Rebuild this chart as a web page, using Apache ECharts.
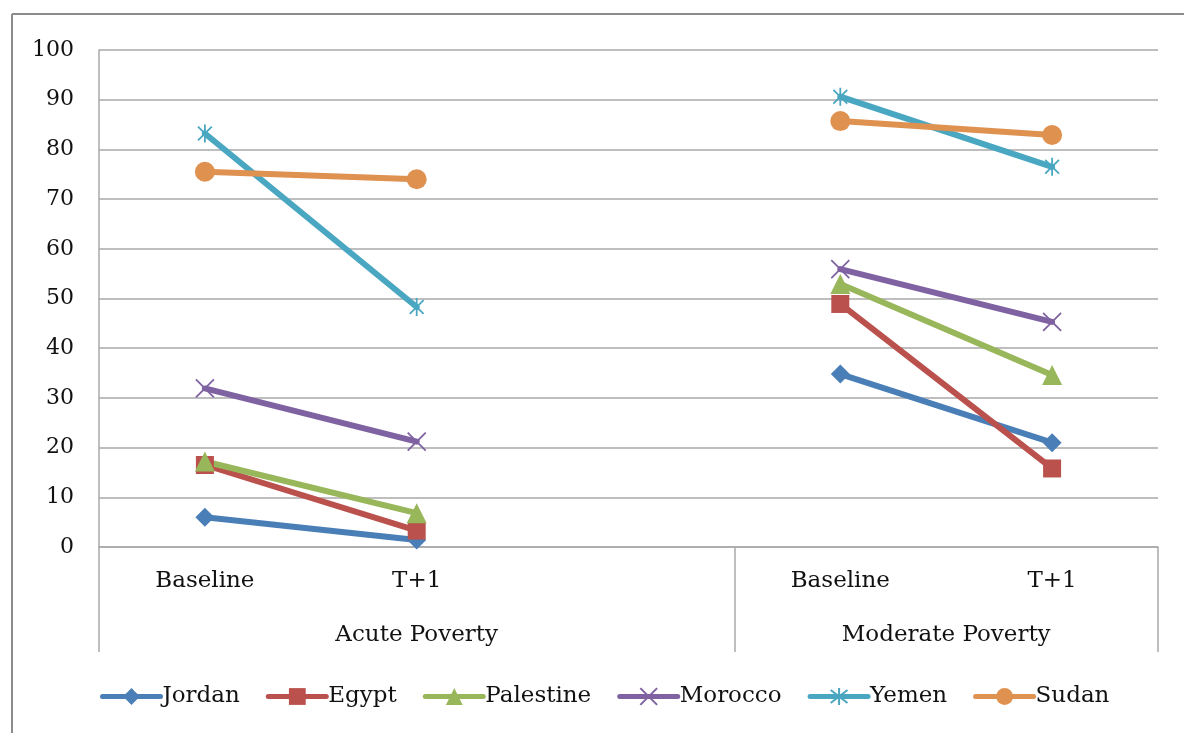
<!DOCTYPE html>
<html>
<head>
<meta charset="utf-8">
<title>Acute and Moderate Poverty</title>
<script src="https://cdn.jsdelivr.net/npm/echarts@6/dist/echarts.min.js"></script>
<style>
  html, body { margin: 0; padding: 0; background: #fff; }
  #chart { width: 1184px; height: 733px; }
</style>
</head>
<body>
<div id="chart"></div>
<script>
// Categories: two periods per poverty group, with an empty slot separating the groups
const categories = ['Baseline', 'T+1', '', 'Baseline', 'T+1'];
const groups = ['Acute Poverty', 'Moderate Poverty'];
const groupSpans = [3, 2];

// Poverty rates (%) per country, null marks the gap between groups
const jordan    = [6.0, 1.4, null, 34.8, 21.0];
const egypt     = [16.5, 3.3, null, 48.9, 15.8];
const palestine = [17.2, 6.8, null, 52.9, 34.6];
const morocco   = [31.9, 21.2, null, 55.9, 45.3];
const yemen     = [83.2, 48.3, null, 90.6, 76.5];
const sudan     = [75.5, 74.0, null, 85.7, 82.9];

const yTicks = [0, 10, 20, 30, 40, 50, 60, 70, 80, 90, 100];

const FONT = 'DejaVu Serif';
const TEXT_COLOR = '#111111';
const GRID_COLOR = '#a9a9a9';

// Group boundaries and centres along the category band (0..categories.length)
const groupEdges = [0];
groupSpans.forEach(s => groupEdges.push(groupEdges[groupEdges.length - 1] + s));
const groupCentres = groups.map((g, i) => {
  if (i === 0) return 1.5;
  return (groupEdges[i] + groupEdges[i + 1]) / 2;
});

const crossPath = 'path://M0,0L10,10M0,10L10,0';
const starPath = 'path://M0,0L10,10M0,10L10,0M5,-1.5L5,11.5';

function lineSeries(name, data, color, symbol, size, stroke) {
  return {
    name: name,
    type: 'line',
    data: data,
    connectNulls: false,
    symbol: symbol,
    symbolSize: size,
    symbolKeepAspect: true,
    showSymbol: true,
    lineStyle: { width: 6, color: color, cap: 'round' },
    itemStyle: stroke
      ? { color: 'rgba(0,0,0,0)', borderColor: color, borderWidth: 1.8 }
      : { color: color, borderWidth: 0 },
    emphasis: { disabled: true },
    z: 2
  };
}

const chart = echarts.init(document.getElementById('chart'), null, { renderer: 'canvas' });

chart.setOption({
  animation: false,
  backgroundColor: '#ffffff',
  textStyle: { fontFamily: FONT },
  grid: { left: 99, right: 26, top: 50, bottom: 186 },
  legend: {
    left: 95,
    top: 680,
    itemWidth: 58,
    itemHeight: 21,
    itemGap: 26,
    lineStyle: { width: 5, cap: 'round' },
    textStyle: { fontFamily: FONT, fontSize: 23, color: TEXT_COLOR, padding: [0, 0, 0, -3] },
    data: ['Jordan', 'Egypt', 'Palestine', 'Morocco', 'Yemen', 'Sudan']
  },
  xAxis: [
    {
      type: 'category',
      data: categories,
      boundaryGap: true,
      axisLine: { show: true, lineStyle: { color: GRID_COLOR, width: 1.5 } },
      axisTick: { show: false },
      axisLabel: { fontFamily: FONT, fontSize: 23, color: TEXT_COLOR, margin: 23, interval: 0 },
      splitLine: { show: false }
    },
    {
      type: 'value',
      min: groupEdges[0],
      max: groupEdges[groupEdges.length - 1],
      position: 'bottom',
      axisLine: { show: false },
      axisTick: {
        show: true,
        customValues: groupEdges,
        length: 105,
        lineStyle: { color: GRID_COLOR, width: 1.5 }
      },
      axisLabel: {
        show: true,
        customValues: groupCentres,
        fontFamily: FONT,
        fontSize: 23,
        color: TEXT_COLOR,
        margin: 77,
        formatter: function (v) {
          const i = groupCentres.indexOf(v);
          return i >= 0 ? groups[i] : '';
        }
      },
      splitLine: { show: false }
    }
  ],
  yAxis: {
    type: 'value',
    min: yTicks[0],
    max: yTicks[yTicks.length - 1],
    interval: 10,
    axisLine: { show: true, lineStyle: { color: GRID_COLOR, width: 1.5 } },
    axisTick: { show: false },
    axisLabel: { fontFamily: FONT, fontSize: 22, color: TEXT_COLOR, margin: 25 },
    splitLine: { show: true, lineStyle: { color: GRID_COLOR, width: 1.5 } }
  },
  graphic: [
    { type: 'line', shape: { x1: 12, y1: 14, x2: 1184, y2: 14 }, style: { stroke: '#8c8c8c', lineWidth: 2 }, silent: true },
    { type: 'line', shape: { x1: 12, y1: 14, x2: 12, y2: 733 }, style: { stroke: '#8c8c8c', lineWidth: 2 }, silent: true }
  ],
  series: [
    lineSeries('Jordan', jordan, '#4a7eb7', 'diamond', 19, false),
    lineSeries('Egypt', egypt, '#bb514d', 'rect', 18, false),
    lineSeries('Palestine', palestine, '#98b65a', 'triangle', 20, false),
    lineSeries('Morocco', morocco, '#7f62a1', crossPath, 18, true),
    lineSeries('Yemen', yemen, '#4aa7c1', starPath, 18, true),
    lineSeries('Sudan', sudan, '#df9150', 'circle', 20, false)
  ]
});
</script>
</body>
</html>
